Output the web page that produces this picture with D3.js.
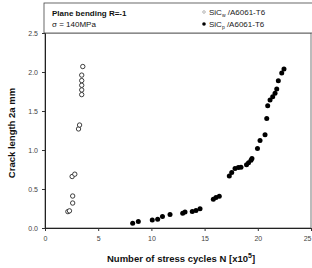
<!DOCTYPE html>
<html>
<head>
<meta charset="utf-8">
<script src="https://cdn.jsdelivr.net/npm/d3@7"></script>
<style>
  body { margin: 0; background: #fff; }
  text { font-family: "Liberation Sans", Arial, sans-serif; }
</style>
</head>
<body>
<svg></svg>
<script>
const size = {w: 312, h: 268};
const margin = {t: 33, r: 1, b: 40, l: 45};

// open circles: first material
const openN = [2.15, 2.3, 2.6, 2.6, 2.55, 2.8, 3.15, 3.25, 3.45, 3.45, 3.45, 3.45, 3.45, 3.55];
const openA = [0.21, 0.22, 0.32, 0.41, 0.66, 0.69, 1.27, 1.32, 1.71, 1.77, 1.83, 1.89, 1.96, 2.07];

// filled circles: second material
const fillN = [8.24, 8.77, 10.08, 10.59, 11.04, 11.75, 12.94, 13.16, 13.84, 14.19, 14.57,
  15.82, 16.07, 16.38, 17.32, 17.55, 17.86, 18.17, 18.42, 18.94, 19.13, 19.36, 19.45,
  19.97, 20.21, 20.68, 20.84, 20.93, 21.15, 21.40, 21.62, 21.78, 21.93, 22.25, 22.46];
const fillA = [0.061, 0.082, 0.104, 0.113, 0.149, 0.173, 0.188, 0.204, 0.212, 0.223, 0.247,
  0.368, 0.390, 0.406, 0.666, 0.710, 0.762, 0.775, 0.779, 0.812, 0.838, 0.870, 0.892,
  1.019, 1.121, 1.195, 1.403, 1.568, 1.640, 1.684, 1.727, 1.783, 1.887, 1.987, 2.039];

const xTicks = [0, 5, 10, 15, 20, 25];
const yTicks = [0, 0.5, 1.0, 1.5, 2.0, 2.5];

const svg = d3.select('svg')
    .attr('width', size.w)
    .attr('height', size.h);

const x = d3.scaleLinear().domain([0, 25]).range([margin.l, size.w - margin.r]);
const y = d3.scaleLinear().domain([0, 2.5]).range([size.h - margin.b, margin.t]);

// frame
svg.append('rect')
    .attr('x', x(0)).attr('y', y(2.5))
    .attr('width', x(25) - x(0)).attr('height', y(0) - y(2.5))
    .attr('fill', 'none').attr('stroke', '#555').attr('stroke-width', 0.8);

// axes
let xAxis = svg.append('g')
    .attr('transform', 'translate(0,' + y(0) + ')')
    .call(d3.axisBottom(x).tickValues(xTicks).tickSize(3).tickPadding(5)
        .tickFormat(d3.format('d')));
let yAxis = svg.append('g')
    .attr('transform', 'translate(' + x(0) + ',0)')
    .call(d3.axisLeft(y).tickValues(yTicks).tickSize(3).tickPadding(4)
        .tickFormat(d3.format('.1f')));
[xAxis, yAxis].forEach(function (a) {
    a.select('.domain').attr('stroke', '#222').attr('stroke-width', 1);
    a.selectAll('line').attr('stroke', '#333');
    a.selectAll('text').attr('font-size', 7).attr('fill', '#444')
        .style('font-family', '"Liberation Sans", Arial, sans-serif');
});
// last x label sits at the right edge of the page
xAxis.selectAll('.tick text').filter((d) => d === 25).attr('text-anchor', 'end');

// points
svg.append('g').selectAll('circle')
    .data(openN)
    .enter()
    .append('circle')
    .attr('cx', (d) => x(d))
    .attr('cy', (d, i) => y(openA[i]))
    .attr('r', 2.2)
    .attr('fill', '#fff')
    .attr('stroke', '#111')
    .attr('stroke-width', 0.8);

svg.append('g').selectAll('circle')
    .data(fillN)
    .enter()
    .append('circle')
    .attr('cx', (d) => x(d))
    .attr('cy', (d, i) => y(fillA[i]))
    .attr('r', 2.5)
    .attr('fill', '#000');

// legend box
svg.append('rect')
    .attr('x', 44).attr('y', 3)
    .attr('width', 280).attr('height', 30)
    .attr('fill', '#fff').attr('stroke', '#444').attr('stroke-width', 0.8);

svg.append('text')
    .attr('x', 52).attr('y', 16)
    .attr('font-size', 8).attr('font-weight', 'bold').attr('fill', '#111')
    .text('Plane bending R=-1');
svg.append('text')
    .attr('x', 52).attr('y', 27)
    .attr('font-size', 8).attr('fill', '#111')
    .text('σ = 140MPa');

const legendRows = [
    {y: 12, open: true},
    {y: 24, open: false}
];
legendRows.forEach(function (r) {
    svg.append('circle')
        .attr('cx', 204).attr('cy', r.y)
        .attr('r', r.open ? 1.3 : 1.8)
        .attr('fill', r.open ? '#fff' : '#000')
        .attr('stroke', r.open ? '#888' : 'none')
        .attr('stroke-width', 0.6);
    let t = svg.append('text')
        .attr('x', 209).attr('y', r.y + 3)
        .attr('font-size', 8).attr('fill', '#222');
    t.append('tspan').text('SiC');
    t.append('tspan').attr('font-size', 5).attr('dy', 2).text(r.open ? 'w' : 'p');
    t.append('tspan').attr('dy', -2).text(' /A6061-T6');
});

// axis titles
svg.append('text')
    .attr('transform', 'translate(15,' + 133 + ') rotate(-90)')
    .attr('text-anchor', 'middle')
    .attr('font-size', 9.5).attr('font-weight', 'bold').attr('fill', '#111')
    .text('Crack length 2a  mm');

let xt = svg.append('text')
    .attr('x', 107).attr('y', 262)
    .attr('font-size', 9.5).attr('font-weight', 'bold').attr('fill', '#111');
xt.append('tspan').text('Number of stress cycles N [x10');
xt.append('tspan').attr('font-size', 7).attr('dy', -4).text('5');
xt.append('tspan').attr('dy', 4).text(']');
</script>
</body>
</html>
